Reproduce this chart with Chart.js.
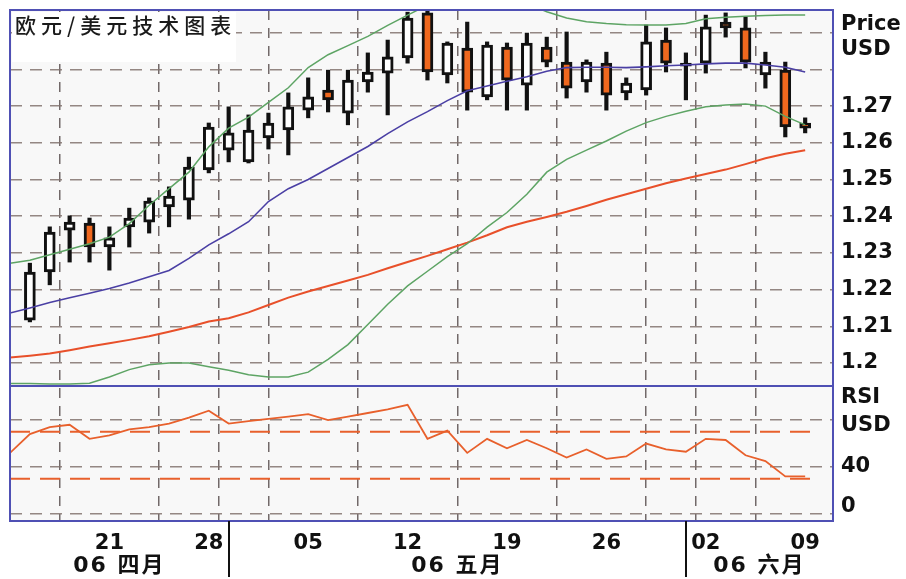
<!DOCTYPE html>
<html>
<head>
<meta charset="utf-8">
<script src="https://cdn.jsdelivr.net/npm/chart.js@4.4.1/dist/chart.umd.min.js"></script>
<style>
  html, body { margin: 0; padding: 0; background: #fff; }
  #wrap { position: relative; width: 906px; height: 579px; }
</style>
</head>
<body>
<div id="wrap"><canvas id="chart"></canvas></div>
<script>
// trading days (2006); the first one only carries indicator values
const days = ['04-14', '04-17', '04-18', '04-19', '04-20', '04-21', '04-24', '04-25', '04-26', '04-27',
  '04-28', '05-01', '05-02', '05-03', '05-04', '05-05', '05-08', '05-09', '05-10', '05-11',
  '05-12', '05-15', '05-16', '05-17', '05-18', '05-19', '05-22', '05-23', '05-24', '05-25',
  '05-26', '05-29', '05-30', '05-31', '06-01', '06-02', '06-05', '06-06', '06-07', '06-08', '06-09'];
const monthNames = ['06 四月', '06 五月', '06 六月'];

// daily candles EUR/USD
const opens = [null, 1.2117, 1.2248, 1.2362, 1.2381, 1.2316, 1.2371, 1.2384, 1.2425, 1.2444, 1.2526,
  1.2580, 1.2548, 1.2613, 1.2635, 1.2689, 1.2744, 1.2681, 1.2766, 1.2790, 1.2831,
  1.2954, 1.2785, 1.2858, 1.2725, 1.2861, 1.2757, 1.2861, 1.2820, 1.2766, 1.2817,
  1.2736, 1.2744, 1.2880, 1.2809, 1.2817, 1.2929, 1.2913, 1.2785, 1.2798, 1.2654];
const highs = [null, 1.2272, 1.2371, 1.2401, 1.2395, 1.2371, 1.2422, 1.2450, 1.2480, 1.2561, 1.2654,
  1.2698, 1.2676, 1.2681, 1.2736, 1.2777, 1.2798, 1.2798, 1.2845, 1.2880, 1.2956,
  1.2962, 1.2875, 1.2929, 1.2875, 1.2872, 1.2899, 1.2888, 1.2902, 1.2826, 1.2847,
  1.2777, 1.2921, 1.2913, 1.2845, 1.2948, 1.2954, 1.2943, 1.2847, 1.2820, 1.2668];
const lows = [null, 1.2112, 1.2213, 1.2275, 1.2275, 1.2253, 1.2316, 1.2354, 1.2371, 1.2392, 1.2518,
  1.2548, 1.2545, 1.2583, 1.2567, 1.2668, 1.2684, 1.2649, 1.2738, 1.2676, 1.2817,
  1.2771, 1.2763, 1.2689, 1.2717, 1.2689, 1.2689, 1.2807, 1.2722, 1.2738, 1.2689,
  1.2717, 1.2730, 1.2793, 1.2717, 1.2790, 1.2888, 1.2804, 1.2749, 1.2616, 1.2627];
const closes = [null, 1.2248, 1.2357, 1.2384, 1.2316, 1.2341, 1.2395, 1.2441, 1.2455, 1.2534, 1.2643,
  1.2627, 1.2635, 1.2654, 1.2698, 1.2725, 1.2717, 1.2771, 1.2793, 1.2834, 1.2940,
  1.2793, 1.2872, 1.2738, 1.2866, 1.2771, 1.2872, 1.2820, 1.2749, 1.2820, 1.2730,
  1.2763, 1.2875, 1.2817, 1.2817, 1.2916, 1.2913, 1.2820, 1.2820, 1.2643, 1.2640];

// indicators
const maMid = [1.2136, 1.2150, 1.2165, 1.2178, 1.2190, 1.2203, 1.2218, 1.2235, 1.2252, 1.2285, 1.2322,
  1.2352, 1.2385, 1.2440, 1.2475, 1.2500, 1.2530, 1.2560, 1.2590, 1.2625, 1.2657,
  1.2685, 1.2715, 1.2742, 1.2755, 1.2768, 1.2780, 1.2795, 1.2805, 1.2806, 1.2806,
  1.2805, 1.2807, 1.2810, 1.2812, 1.2815, 1.2817, 1.2817, 1.2812, 1.2806, 1.2793];
const bandUpper = [1.2272, 1.2280, 1.2295, 1.2310, 1.2325, 1.2343, 1.2380, 1.2430, 1.2475, 1.2520, 1.2589,
  1.2640, 1.2670, 1.2710, 1.2750, 1.2805, 1.2840, 1.2865, 1.2890, 1.2920, 1.2948,
  1.2975, 1.2990, 1.3000, 1.3000, 1.2995, 1.2980, 1.2957, 1.2940, 1.2930, 1.2925,
  1.2922, 1.2921, 1.2921, 1.2925, 1.2938, 1.2942, 1.2945, 1.2947, 1.2948, 1.2948];
const bandLower = [1.1944, 1.1944, 1.1943, 1.1943, 1.1945, 1.1962, 1.1982, 1.1995, 1.2000, 1.2000, 1.1990,
  1.1980, 1.1968, 1.1962, 1.1962, 1.1975, 1.2010, 1.2050, 1.2105, 1.2160, 1.2210,
  1.2250, 1.2290, 1.2325, 1.2370, 1.2410, 1.2460, 1.2520, 1.2555, 1.2580, 1.2605,
  1.2632, 1.2655, 1.2672, 1.2686, 1.2698, 1.2703, 1.2706, 1.2700, 1.2672, 1.2649];
const maLong = [1.2015, 1.2020, 1.2026, 1.2035, 1.2045, 1.2054, 1.2063, 1.2073, 1.2085, 1.2098, 1.2113,
  1.2122, 1.2138, 1.2158, 1.2178, 1.2195, 1.2210, 1.2225, 1.2240, 1.2258, 1.2275,
  1.2292, 1.2310, 1.2328, 1.2348, 1.2370, 1.2385, 1.2398, 1.2412, 1.2428, 1.2445,
  1.2460, 1.2475, 1.2490, 1.2503, 1.2515, 1.2527, 1.2542, 1.2558, 1.2570, 1.2580];
const rsiValues = [52, 68, 74, 76, 64, 67, 72, 74, 77, 82, 88,
  77, 79, 81, 83, 85, 80, 83, 86, 89, 93,
  64, 71, 52, 64, 56, 63, 56, 48, 55, 47,
  49, 60, 55, 53, 64, 63, 50, 45, 32, 32];
const rsiLevels = [70, 30];

// axis ticks
const priceGrid = [1.20, 1.21, 1.22, 1.23, 1.24, 1.25, 1.26, 1.27, 1.28, 1.29];
const priceLabels = ['1.2', '1.21', '1.22', '1.23', '1.24', '1.25', '1.26', '1.27', '', ''];
const priceUnitPos = [1.2922, 1.2853];
const priceUnitText = ['Price', 'USD'];
const rsiGrid = [0, 40, 80];
const rsiLabels = ['', '40', ''];
const rsiUnitPos = [99.5, 75.5, 6.5];
const rsiUnitText = ['RSI', 'USD', '0'];

const isFriday = d => new Date('2006-' + d + 'T12:00:00').getDay() === 5;
const fridays = days.map((d, i) => i).filter(i => isFriday(days[i]) && i > 0);
const monthStarts = days.map((d, i) => i).filter(i => i > 0 && days[i].slice(0, 2) !== days[i - 1].slice(0, 2));
const xTicks = fridays.concat(monthStarts).sort((a, b) => a - b);

const candleIdx = days.map((d, i) => i).filter(i => opens[i] !== null);
const wickData = candleIdx.map(i => ({ x: i, y: [lows[i], highs[i]] }));
const bodyData = candleIdx.map(i => ({ x: i, y: [opens[i], closes[i]] }));
const bodyColors = candleIdx.map(i => closes[i] >= opens[i] ? '#ffffff' : '#f0681e');
const toLine = arr => arr.map((v, i) => ({ x: i, y: v }));
const levelLine = v => [{ x: 0, y: v }, { x: days.length - 0.4, y: v }];

const gridX = 'rgba(90,80,80,0.85)';
const gridY = 'rgba(130,115,110,0.85)';
const FONT = '"DejaVu Sans", sans-serif';

Chart.defaults.font.family = FONT;
Chart.defaults.font.size = 21;
Chart.defaults.font.weight = 'bold';
Chart.defaults.color = '#111';

const panelPlugin = {
  id: 'panels',
  beforeDraw(chart) {
    const { ctx, chartArea: a } = chart;
    ctx.save();
    ctx.fillStyle = '#f8f8f8';
    ctx.fillRect(a.left, a.top, a.right - a.left, a.bottom - a.top);
    ctx.restore();
  },
  afterDraw(chart) {
    const { ctx, chartArea: a, scales } = chart;
    const x = scales.x;
    ctx.save();
    // frame and divider
    ctx.strokeStyle = '#4f50b4';
    ctx.lineWidth = 2;
    ctx.strokeRect(a.left, a.top, a.right - a.left, a.bottom - a.top);
    ctx.beginPath();
    ctx.moveTo(a.left, scales.y2.top);
    ctx.lineTo(a.right, scales.y2.top);
    ctx.stroke();
    // month separators below axis
    ctx.strokeStyle = '#111';
    monthStarts.forEach(v => {
      const px = Math.round(x.getPixelForValue(v));
      ctx.beginPath();
      ctx.moveTo(px, a.bottom);
      ctx.lineTo(px, chart.height - 2);
      ctx.stroke();
    });
    // month names centred on visible part of each month
    const edges = [x.min].concat(monthStarts, [x.max]);
    ctx.font = 'bold 22px ' + FONT + ', "Noto Sans CJK SC"';
    ctx.letterSpacing = '2px';
    ctx.textAlign = 'center';
    ctx.textBaseline = 'middle';
    ctx.fillStyle = '#111';
    monthNames.forEach((name, k) => {
      const cx = (x.getPixelForValue(edges[k]) + x.getPixelForValue(edges[k + 1])) / 2;
      ctx.fillText(name, cx, a.bottom + 45);
    });
    // title box
    ctx.fillStyle = '#ffffff';
    ctx.fillRect(a.left + 2, a.top + 2, 224, 50);
    ctx.fillStyle = '#1a1a1a';
    ctx.font = '500 21px "Noto Sans CJK SC"';
    ctx.letterSpacing = '5px';
    ctx.textAlign = 'left';
    ctx.fillText('欧元/美元技术图表', a.left + 5, a.top + 15);
    ctx.restore();
  }
};

const lineDs = (data, color, width, axis) => ({
  type: 'line', data: data, borderColor: color, borderWidth: width,
  pointRadius: 0, tension: 0, yAxisID: axis, order: 0
});

// keep the panels flush with the frame: no label overhang padding
const fixY = s => { s.width = 73; s.paddingTop = 0; s.paddingBottom = 0; };

new Chart(document.getElementById('chart'), {
  type: 'bar',
  data: {
    datasets: [
      lineDs(toLine(maMid), '#4a3fa4', 1.6, 'y'),
      lineDs(toLine(bandUpper), '#5da464', 1.5, 'y'),
      lineDs(toLine(bandLower), '#5da464', 1.5, 'y'),
      lineDs(toLine(maLong), '#e8502a', 2, 'y'),
      lineDs(toLine(rsiValues), '#e8602c', 1.8, 'y2'),
      Object.assign(lineDs(levelLine(rsiLevels[0]), '#e8602c', 2, 'y2'), { borderDash: [20, 10] }),
      Object.assign(lineDs(levelLine(rsiLevels[1]), '#e8602c', 2, 'y2'), { borderDash: [20, 10] }),
      {
        type: 'bar', data: bodyData, backgroundColor: bodyColors, borderColor: '#111',
        borderWidth: 3, borderSkipped: false, barThickness: 11, minBarLength: 2,
        grouped: false, yAxisID: 'y', order: 1
      },
      {
        type: 'bar', data: wickData, backgroundColor: '#111', borderWidth: 0,
        barThickness: 3.5, grouped: false, yAxisID: 'y', order: 2
      }
    ]
  },
  options: {
    responsive: true,
    maintainAspectRatio: false,
    animation: false,
    layout: { padding: { left: 10, top: 10, right: 0, bottom: 0 } },
    plugins: { legend: { display: false }, tooltip: { enabled: false } },
    scales: {
      x: {
        type: 'linear', min: 0, max: days.length + 0.4, offset: false,
        afterBuildTicks: s => { s.ticks = xTicks.map(v => ({ value: v })); },
        afterFit: s => { s.height = 58; s.paddingLeft = 0; s.paddingRight = 0; },
        ticks: {
          autoSkip: false, maxRotation: 0, padding: 10,
          callback: v => fridays.includes(v) ? days[v].slice(3) : ''
        },
        grid: { color: gridX, lineWidth: 1.5, drawTicks: false },
        border: { display: false, dash: [10, 8] }
      },
      y: {
        type: 'linear', position: 'right', stack: 'panels', stackWeight: 376,
        min: 1.19373, max: 1.29619, beginAtZero: false,
        afterBuildTicks: s => {
          s.ticks = priceGrid.concat(priceUnitPos).sort((a, b) => a - b).map(v => ({ value: v }));
        },
        afterFit: fixY,
        ticks: {
          autoSkip: false, padding: 8,
          callback: v => {
            const g = priceGrid.indexOf(v);
            return g >= 0 ? priceLabels[g] : priceUnitText[priceUnitPos.indexOf(v)];
          }
        },
        grid: {
          lineWidth: 1.5, drawTicks: false,
          color: c => priceGrid.includes(c.tick.value) ? gridY : 'transparent'
        },
        border: { display: false, dash: [12, 8] }
      },
      y2: {
        type: 'linear', axis: 'y', position: 'right', stack: 'panels', stackWeight: 135,
        min: -6, max: 109,
        afterBuildTicks: s => {
          s.ticks = rsiGrid.concat(rsiUnitPos).sort((a, b) => a - b).map(v => ({ value: v }));
        },
        afterFit: fixY,
        ticks: {
          autoSkip: false, padding: 8,
          callback: v => {
            const g = rsiGrid.indexOf(v);
            return g >= 0 ? rsiLabels[g] : rsiUnitText[rsiUnitPos.indexOf(v)];
          }
        },
        grid: {
          lineWidth: 1.5, drawTicks: false,
          color: c => rsiGrid.includes(c.tick.value) ? gridY : 'transparent'
        },
        border: { display: false, dash: [12, 8] }
      }
    }
  },
  plugins: [panelPlugin]
});
</script>
</body>
</html>
